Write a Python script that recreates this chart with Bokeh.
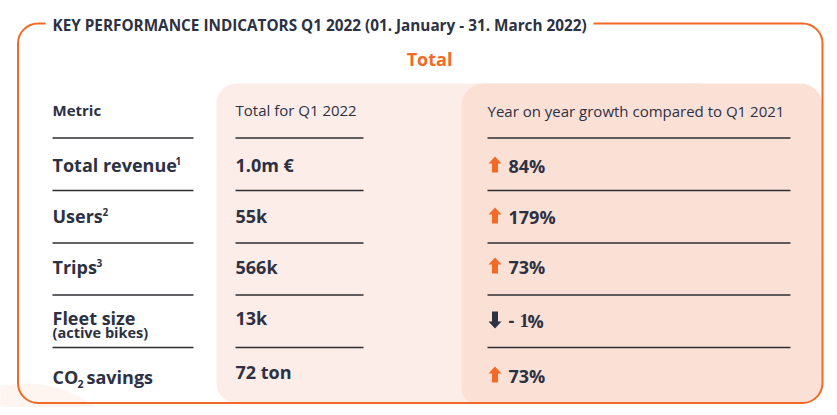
from bokeh.plotting import figure
from bokeh.models import Range1d
from bokeh.core.properties import value
from bokeh.embed import file_html
from bokeh.resources import INLINE

# ---- data ----
title = "KEY PERFORMANCE INDICATORS Q1 2022 (01. January - 31. March 2022)"
section = "Total"
headers = ["Metric", "Total for Q1 2022", "Year on year growth compared to Q1 2021"]
metrics = ["Total revenue", "Users", "Trips", "Fleet size", "CO2 savings"]
metric_footnotes = ["1", "2", "3", "", ""]
metric_notes = ["", "", "", "(active bikes)", ""]
totals = ["1.0m \u20ac", "55k", "566k", "13k", "72 ton"]
growth_pct = [84, 179, 73, -1, 73]

# ---- style ----
FONT = value("Open Sans")
NAVY = "#2c3144"
ORANGE = "#f26a25"
LIGHT = "#fcede8"
DARK = "#fbe0d6"
K = 0.37  # baseline correction factor

p = figure(width=829, height=407, x_range=Range1d(0, 829), y_range=Range1d(407, 0),
           output_backend="svg", toolbar_location=None, min_border=0)
p.axis.visible = False
p.grid.visible = False
p.outline_line_color = None
p.background_fill_color = "white"
p.border_fill_color = "white"


def txt(x, base, s, size, bold=True, color=NAVY, font=FONT, align="left"):
    p.text(x=[x], y=[base - K * size], text=[s], text_font=font,
           text_font_style="bold" if bold else "normal", text_font_size=f"{size}px",
           text_color=color, text_align=align, text_baseline="alphabetic")


# decorative faint circle bottom-left
p.circle(x=[25], y=[499], radius=116, fill_color="#fef4f0", line_color=None)

# column panels
p.quad(left=[216], right=[700], top=[83], bottom=[402.5], fill_color=LIGHT, line_color=None,
       border_radius=(20, 0, 0, 20))
p.quad(left=[461], right=[822], top=[83], bottom=[402.5], fill_color=DARK, line_color=None,
       border_radius=(22, 22, 20, 14))

# outer frame
p.quad(left=[17.5], right=[822], top=[23], bottom=[402.5], fill_color=None,
       line_color=ORANGE, line_width=2, border_radius=20)
# gap for the title
p.quad(left=[45], right=[593], top=[16], bottom=[31], fill_color="white", line_color=None)
txt(52, 30, title, 15.3)

# section title
txt(429, 65, section, 18, color=ORANGE, align="center")

# columns layout
col_x = [52, 235, 487]
col_end = [193, 363, 790]
header_base = 115.5
line_y = [137.5, 190, 242.5, 294.5, 347]
label_base = [171, 222, 273, 324, 383]
value_base = [171, 222, 273, 324, 378]
growth_base = [172, 223, 273, 327, 382]

txt(col_x[0], header_base, headers[0], 15)
txt(col_x[1], header_base, headers[1], 15, bold=False)
txt(col_x[2], header_base + 0.5, headers[2], 15, bold=False)

p.segment(x0=[c for c in col_x for _ in line_y], x1=[c for c in col_end for _ in line_y],
          y0=line_y * 3, y1=line_y * 3, line_color="#2e2e33", line_width=1.4)

# metric labels
sup_x = [175, 102, 96]
for i, m in enumerate(metrics):
    b = label_base[i]
    if m.startswith("CO2"):
        txt(52, b, "CO", 18)
        txt(77, b + 4.5, "2", 10.5)
        txt(86, b, m.split(" ", 1)[1], 18)
    else:
        txt(52, b, m, 18)
    if metric_footnotes[i]:
        txt(sup_x[i], b - 7, metric_footnotes[i], 10)
    if metric_notes[i]:
        txt(52, b + 13, metric_notes[i], 14.5)

# totals
for t, b in zip(totals, value_base):
    txt(235, b, t, 18)

# growth arrows + labels
xs, ys, cols = [], [], []
for g, b in zip(growth_pct, growth_base):
    cx = 494.5
    if g >= 0:
        top, bot = b - 16, b
        xs.append([cx, cx + 6.5, cx + 3, cx + 3, cx - 3, cx - 3, cx - 6.5])
        ys.append([top, top + 7, top + 7, bot, bot, top + 7, top + 7])
        cols.append(ORANGE)
    else:
        top, bot = b - 16, b + 1
        xs.append([cx, cx + 6.5, cx + 3, cx + 3, cx - 3, cx - 3, cx - 6.5])
        ys.append([bot, bot - 7, bot - 7, top, top, bot - 7, bot - 7])
        cols.append(NAVY)
p.patches(xs=xs, ys=ys, fill_color=cols, line_color=None)

for g, b in zip(growth_pct, growth_base):
    if g >= 0:
        txt(508, b, f"{g}%", 18)
    else:
        txt(508, b, "-", 18)
        txt(519, b, str(abs(g)), 19, font=value("Liberation Serif"))
        txt(527, b, "%", 18)

open("out.html", "w").write(file_html(p, INLINE))
